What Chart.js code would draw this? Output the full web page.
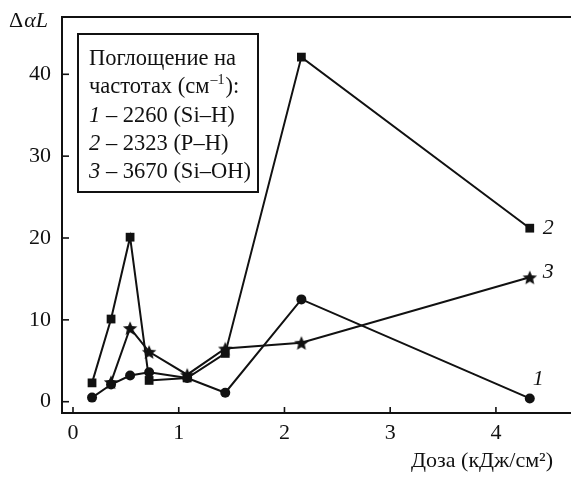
<!DOCTYPE html>
<html>
<head>
<meta charset="utf-8">
<script src="https://cdn.jsdelivr.net/npm/chart.js@4.4.0/dist/chart.umd.min.js"></script>
<style>
  body { margin: 0; background: #fff; }
  #wrap { width: 571px; height: 477px; }
</style>
</head>
<body>
<div id="wrap"><canvas id="chart" width="571" height="477"></canvas></div>
<script>
// dose, kJ/cm2
const doses = [0.18, 0.36, 0.54, 0.72, 1.08, 1.44, 2.16, 4.32];
// curve 1: 2260 (Si-H), curve 2: 2323 (P-H), curve 3: 3670 (Si-OH)
const siH = [0.5, 2.1, 3.2, 3.6, 2.9, 1.1, 12.5, 0.4];
const pH = [2.3, 10.1, 20.1, 2.6, 2.9, 5.9, 42.1, 21.2];
const siOH = [null, 2.4, 9.0, 6.1, 3.3, 6.5, 7.2, 15.2];

const curveNums = ['1', '2', '3'];
const curveNames = ['2260 (Si–H)', '2323 (P–H)', '3670 (Si–OH)'];
const legendHead = ['Поглощение на', 'частотах (см'];
const xTicks = [0, 1, 2, 3, 4];
const yTicks = [0, 10, 20, 30, 40];
const xTitle = 'Доза (кДж/см²)';

document.addEventListener("DOMContentLoaded", function () {
	const ctx = document.querySelector("#chart").getContext("2d");
	const ink = '#111';
	const serif = '"Liberation Serif", "Times New Roman", serif';

	function makeStar(r) {
		const c = document.createElement('canvas');
		const s = Math.ceil(r * 2) + 2;
		c.width = s;
		c.height = s;
		const g = c.getContext('2d');
		g.fillStyle = ink;
		g.beginPath();
		for (let i = 0; i < 10; i++) {
			const rad = i % 2 ? r * 0.45 : r;
			const a = -Math.PI / 2 + i * Math.PI / 5;
			g.lineTo(s / 2 + rad * Math.cos(a), s / 2 + 0.8 + rad * Math.sin(a));
		}
		g.closePath();
		g.fill();
		return c;
	}

	function pts(vals) {
		return doses.map((d, i) => ({ x: d, y: vals[i] }));
	}

	const common = {
		borderColor: ink,
		backgroundColor: ink,
		borderWidth: 2,
		tension: 0,
		fill: false,
		pointBorderWidth: 0
	};

	const data = {
		datasets: [
			Object.assign({ label: '1', data: pts(siH), pointStyle: 'circle', pointRadius: 5 }, common),
			Object.assign({ label: '2', data: pts(pH), pointStyle: 'rect', pointRadius: 6.2 }, common),
			Object.assign({ label: '3', data: pts(siOH), pointStyle: makeStar(7.6), pointRadius: 8 }, common)
		]
	};

	const decor = {
		id: 'decor',
		afterDraw(chart) {
			const c = chart.ctx;
			const a = chart.chartArea;
			const xs = chart.scales.x, ys = chart.scales.y;
			c.save();
			c.strokeStyle = ink;
			c.fillStyle = ink;
			c.lineWidth = 2;
			// top frame line
			c.beginPath();
			c.moveTo(a.left, a.top);
			c.lineTo(a.right, a.top);
			c.stroke();
			// inward ticks
			c.lineWidth = 1.6;
			xTicks.forEach(v => {
				const px = xs.getPixelForValue(v);
				c.beginPath();
				c.moveTo(px, a.bottom);
				c.lineTo(px, a.bottom - 6);
				c.stroke();
			});
			yTicks.forEach(v => {
				const py = ys.getPixelForValue(v);
				c.beginPath();
				c.moveTo(a.left, py);
				c.lineTo(a.left + 7, py);
				c.stroke();
			});

			// legend box
			const bx = 78, by = 34, bw = 180, bh = 158;
			c.lineWidth = 2;
			c.strokeRect(bx, by, bw, bh);
			c.textBaseline = 'alphabetic';
			c.textAlign = 'left';
			const tx = bx + 11;
			let ty = by + 31;
			c.font = '22.5px ' + serif;
			c.fillText(legendHead[0], tx, ty);
			ty += 28.3;
			c.fillText(legendHead[1], tx, ty);
			let w = c.measureText(legendHead[1]).width;
			c.font = '14px ' + serif;
			c.fillText('–1', tx + w + 1, ty - 9);
			const w2 = c.measureText('–1').width;
			c.font = '22.5px ' + serif;
			c.fillText('):', tx + w + w2 + 2, ty);
			curveNums.forEach((n, i) => {
				ty += 28.3;
				c.font = 'italic 22.5px ' + serif;
				c.fillText(n, tx, ty);
				const nw = c.measureText(n).width;
				c.font = '22.5px ' + serif;
				c.fillText(' – ' + curveNames[i], tx + nw, ty);
			});

			// axis titles
			c.font = '22px ' + serif;
			c.fillText('Δ', 9, 27);
			let dw = c.measureText('Δ').width;
			c.font = 'italic 22px ' + serif;
			c.fillText('αL', 9 + dw + 1, 27);
			c.font = '22px ' + serif;
			c.textAlign = 'right';
			c.fillText(xTitle, 553, 467);

			// curve numbers at the last points
			c.font = 'italic 22px ' + serif;
			c.textAlign = 'left';
			c.textBaseline = 'middle';
			const last = doses.length - 1;
			const lastVals = [siH[last], pH[last], siOH[last]];
			const offs = [[3, -19], [13, 0], [13, -5]];
			lastVals.forEach((v, i) => {
				c.fillText(curveNums[i], xs.getPixelForValue(doses[last]) + offs[i][0], ys.getPixelForValue(v) + offs[i][1]);
			});
			c.restore();
		}
	};

	const tickFont = { family: serif, size: 22 };

	const config = {
		type: 'line',
		data: data,
		options: {
			responsive: false,
			animation: false,
			layout: { autoPadding: false, padding: { top: 17, right: 0, left: 0, bottom: 0 } },
			plugins: {
				legend: { display: false },
				tooltip: { enabled: false }
			},
			scales: {
				x: {
					type: 'linear',
					min: -0.104,
					max: 4.71,
					afterBuildTicks: s => { s.ticks = xTicks.map(v => ({ value: v })); },
					afterFit: s => { s.height = 64; s.paddingLeft = 0; s.paddingRight = 0; },
					grid: { display: true, drawOnChartArea: false, drawTicks: false },
					border: { display: true, color: ink, width: 2 },
					ticks: { color: ink, font: tickFont, padding: 7, maxRotation: 0 }
				},
				y: {
					min: -1.38,
					max: 47.0,
					afterBuildTicks: s => { s.ticks = yTicks.map(v => ({ value: v })); },
					afterFit: s => { s.width = 62; s.paddingTop = 0; s.paddingBottom = 0; },
					grid: { display: true, drawOnChartArea: false, drawTicks: false },
					border: { display: true, color: ink, width: 2 },
					ticks: { color: ink, font: tickFont, padding: 11 }
				}
			}
		},
		plugins: [decor]
	};

	new Chart(ctx, config);
});
</script>
</body>
</html>
